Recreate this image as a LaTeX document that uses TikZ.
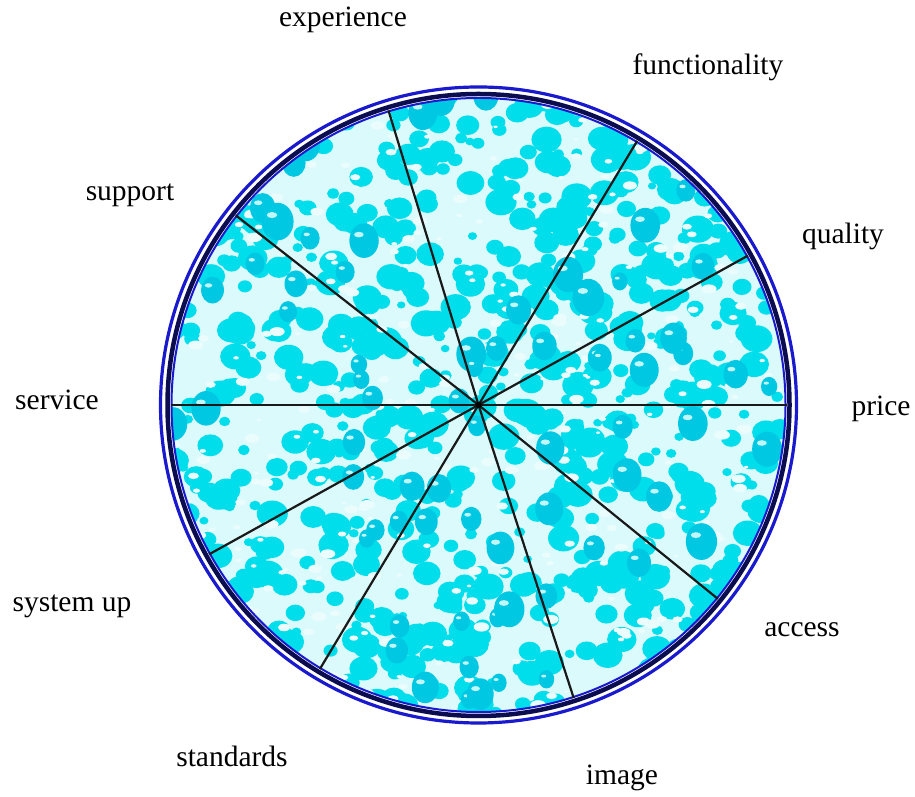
\documentclass[tikz,border=0pt]{standalone}
\usepackage{fontspec}
\setmainfont{Liberation Serif}
\usetikzlibrary{calc}
\definecolor{bub}{RGB}{0,222,236}
\definecolor{bubdark}{RGB}{0,200,226}
\definecolor{ringblue}{RGB}{25,25,205}
\definecolor{ringnavy}{RGB}{12,12,80}
\tikzset{
  lab/.style={font=\fontsize{29.5}{32}\selectfont, inner sep=0pt},
  spoke/.style={line width=2.2pt, black!90},
}
\begin{document}
\begin{tikzpicture}[x=1pt,y=1pt]
\useasboundingbox (0,0) rectangle (915,797);
\fill[white] (0,0) rectangle (915,797);
\coordinate (c) at (478.5,392);
% textured fill
\begin{scope}
\clip (c) circle (307);
\fill[bub!14!white] (c) circle (307);
\pgfmathsetseed{7}
\foreach \i in {1,...,820}{
  \pgfmathsetmacro{\rx}{478.5+rand*310}
  \pgfmathsetmacro{\ry}{392+rand*310}
  \pgfmathsetmacro{\s}{4+rnd*12}
  \fill[bub] (\rx,\ry) ellipse ({\s} and {0.85*\s});
}
\pgfmathsetseed{11}
\foreach \i in {1,...,380}{
  \pgfmathsetmacro{\rx}{478.5+rand*310}
  \pgfmathsetmacro{\ry}{392+rand*310}
  \pgfmathsetmacro{\s}{2+rnd*6}
  \fill[white!92!bub] (\rx,\ry) ellipse ({\s} and {0.6*\s});
}
\pgfmathsetseed{19}
\foreach \i in {1,...,90}{
  \pgfmathsetmacro{\rx}{478.5+rand*310}
  \pgfmathsetmacro{\ry}{392+rand*310}
  \pgfmathsetmacro{\s}{9+rnd*10}
  \fill[bubdark] (\rx,\ry) ellipse ({0.85*\s} and {\s});
  \fill[white!75!bub] (\rx-0.3*\s,\ry+0.35*\s) ellipse ({0.28*\s} and {0.16*\s});
}
\end{scope}
% rings
\draw[ringblue, line width=3.2pt] (c) circle (318);
\draw[ringnavy, line width=4.5pt] (c) circle (311);
\draw[ringblue, line width=2pt] (c) circle (307);
% spokes
\foreach \a/\n in {0/p, 29/q, 59/f, 107/e, 142/su, 180/se, 209/sy, 239/st, 288/im, 321/ac}{
  \coordinate (\n) at ($(c)+(\a:308)$);
}
\draw[spoke] (c) -- (p);
\draw[spoke] (c) -- (q);
\draw[spoke] (c) -- (f);
\draw[spoke] (c) -- (e);
\draw[spoke] (c) -- (su);
\draw[spoke] (c) -- (se);
\draw[spoke] (c) -- (sy);
\draw[spoke] (c) -- (st);
\draw[spoke] (c) -- (im);
\draw[spoke] (c) -- (ac);
\fill[black] (c) circle (3);
% labels
\node[lab] (lexp) at (343,777) {experience};
\node[lab] (lfun) at (708,730) {functionality};
\node[lab] (lsup) at (130,602) {support};
\node[lab] (lqua) at (843,561) {quality};
\node[lab] (lser) at (57,397) {service};
\node[lab] (lpri) at (881,388) {price};
\node[lab] (lsys) at (72,191) {system up};
\node[lab] (lacc) at (802,167) {access};
\node[lab] (lsta) at (232,41) {standards};
\node[lab] (limg) at (622,19) {image};
\end{tikzpicture}
\end{document}
